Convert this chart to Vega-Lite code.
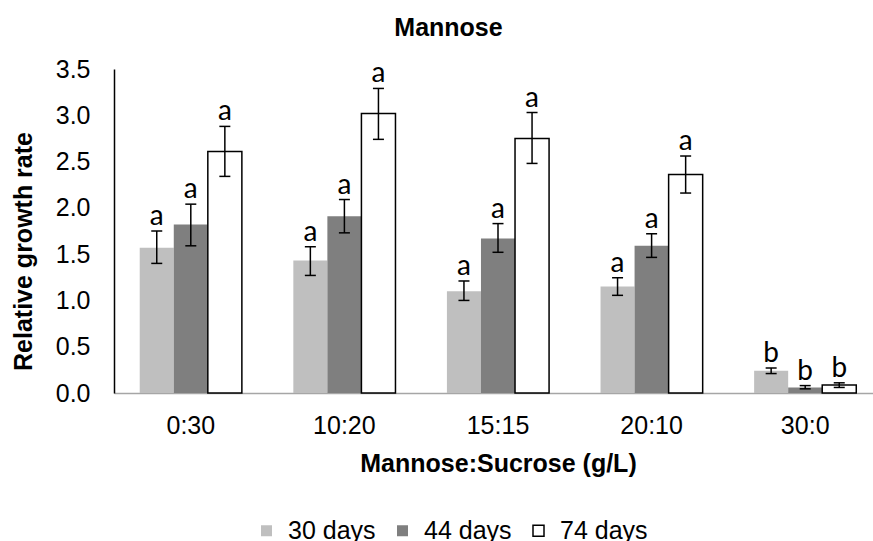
{
  "$schema": "https://vega.github.io/schema/vega-lite/v6.json",
  "width": 759,
  "height": 324,
  "autosize": {"type": "none"},
  "padding": {"left": 114, "top": 69, "right": 0, "bottom": 148},
  "background": "white",
  "title": {"text": "Mannose", "font": "Liberation Sans", "fontSize": 25, "fontWeight": "bold", "color": "black", "anchor": "middle", "frame": "group", "dx": -45, "offset": -4, "baseline": "alphabetic"},
  "data": {"values": [
    {"ratio": "0:30", "series": "30 days", "value": 1.57, "lo": 1.40, "hi": 1.75, "letter": "a"},
    {"ratio": "0:30", "series": "44 days", "value": 1.82, "lo": 1.59, "hi": 2.04, "letter": "a"},
    {"ratio": "0:30", "series": "74 days", "value": 2.61, "lo": 2.34, "hi": 2.88, "letter": "a"},
    {"ratio": "10:20", "series": "30 days", "value": 1.43, "lo": 1.27, "hi": 1.58, "letter": "a"},
    {"ratio": "10:20", "series": "44 days", "value": 1.91, "lo": 1.73, "hi": 2.09, "letter": "a"},
    {"ratio": "10:20", "series": "74 days", "value": 3.02, "lo": 2.74, "hi": 3.29, "letter": "a"},
    {"ratio": "15:15", "series": "30 days", "value": 1.10, "lo": 1.00, "hi": 1.21, "letter": "a"},
    {"ratio": "15:15", "series": "44 days", "value": 1.67, "lo": 1.52, "hi": 1.83, "letter": "a"},
    {"ratio": "15:15", "series": "74 days", "value": 2.75, "lo": 2.48, "hi": 3.03, "letter": "a"},
    {"ratio": "20:10", "series": "30 days", "value": 1.15, "lo": 1.055, "hi": 1.245, "letter": "a"},
    {"ratio": "20:10", "series": "44 days", "value": 1.59, "lo": 1.465, "hi": 1.72, "letter": "a"},
    {"ratio": "20:10", "series": "74 days", "value": 2.36, "lo": 2.16, "hi": 2.56, "letter": "a"},
    {"ratio": "30:0", "series": "30 days", "value": 0.24, "lo": 0.21, "hi": 0.27, "letter": "b"},
    {"ratio": "30:0", "series": "44 days", "value": 0.06, "lo": 0.045, "hi": 0.08, "letter": "b"},
    {"ratio": "30:0", "series": "74 days", "value": 0.086, "lo": 0.06, "hi": 0.11, "letter": "b"}
  ]},
  "encoding": {
    "x": {
      "field": "ratio", "type": "nominal",
      "sort": ["0:30", "10:20", "15:15", "20:10", "30:0"],
      "scale": {"range": [0, 768], "paddingInner": 0.335, "paddingOuter": 0.1675},
      "axis": {
        "title": "Mannose:Sucrose (g/L)", "titleFont": "Liberation Sans", "titleFontSize": 25, "titleFontWeight": "bold", "titleColor": "black",
        "titleY": 78, "titleBaseline": "alphabetic",
        "labelAngle": 0, "labelBaseline": "alphabetic", "labelPadding": 40, "labelFont": "Liberation Sans", "labelFontSize": 25, "labelColor": "black",
        "ticks": false, "tickSize": 0, "grid": false, "domainColor": "#a6a6a6", "domainWidth": 1.5
      }
    },
    "xOffset": {"field": "series", "type": "nominal", "sort": ["30 days", "44 days", "74 days"], "scale": {"paddingInner": 0, "paddingOuter": 0}}
  },
  "layer": [
    {
      "mark": {"type": "bar", "strokeWidth": 1.5},
      "encoding": {
        "y": {
          "field": "value", "type": "quantitative",
          "scale": {"domain": [0, 3.5], "nice": false, "zero": true},
          "axis": {
            "title": "Relative growth rate", "titleFont": "Liberation Sans", "titleFontSize": 25, "titleFontWeight": "bold", "titleColor": "black",
            "titleX": -91, "titleY": 182, "titleAngle": -90, "titleAlign": "center", "titleBaseline": "middle",
            "values": [0, 0.5, 1, 1.5, 2, 2.5, 3, 3.5], "format": ".1f",
            "grid": false, "ticks": false, "tickSize": 0, "labelPadding": 24,
            "labelFont": "Liberation Sans", "labelFontSize": 25, "labelColor": "black",
            "domainColor": "black", "domainWidth": 1.5
          }
        },
        "fill": {
          "field": "series", "type": "nominal", "sort": ["30 days", "44 days", "74 days"],
          "scale": {"range": ["#bfbfbf", "#7f7f7f", "#ffffff"]},
          "legend": {
            "orient": "none", "legendX": 140, "legendY": 449, "direction": "horizontal", "title": null,
            "symbolStrokeColor": {"expr": "datum.value === '74 days' ? 'black' : 'transparent'"}
          }
        },
        "stroke": {
          "condition": {"test": "datum.series === '74 days'", "value": "black"},
          "value": null
        }
      }
    },
    {
      "mark": {"type": "rule", "color": "black", "strokeWidth": 1.5},
      "encoding": {
        "y": {"field": "lo", "type": "quantitative"},
        "y2": {"field": "hi"}
      }
    },
    {
      "mark": {"type": "tick", "orient": "horizontal", "size": 11, "thickness": 1.5, "color": "black", "opacity": 1},
      "encoding": {"y": {"field": "lo", "type": "quantitative"}}
    },
    {
      "mark": {"type": "tick", "orient": "horizontal", "size": 11, "thickness": 1.5, "color": "black", "opacity": 1},
      "encoding": {"y": {"field": "hi", "type": "quantitative"}}
    },
    {
      "mark": {"type": "text", "font": "Lato", "fontSize": 28, "color": "black", "baseline": "alphabetic", "align": "center", "dy": -6},
      "encoding": {
        "y": {"field": "hi", "type": "quantitative"},
        "text": {"field": "letter"}
      }
    }
  ],
  "config": {
    "view": {"stroke": null},
    "legend": {
      "symbolType": "square", "symbolSize": 121, "symbolStrokeWidth": 1.5,
      "labelFont": "Liberation Sans", "labelFontSize": 25, "labelColor": "black",
      "labelOffset": 9, "columnPadding": 14, "padding": 0, "offset": 0
    }
  }
}
